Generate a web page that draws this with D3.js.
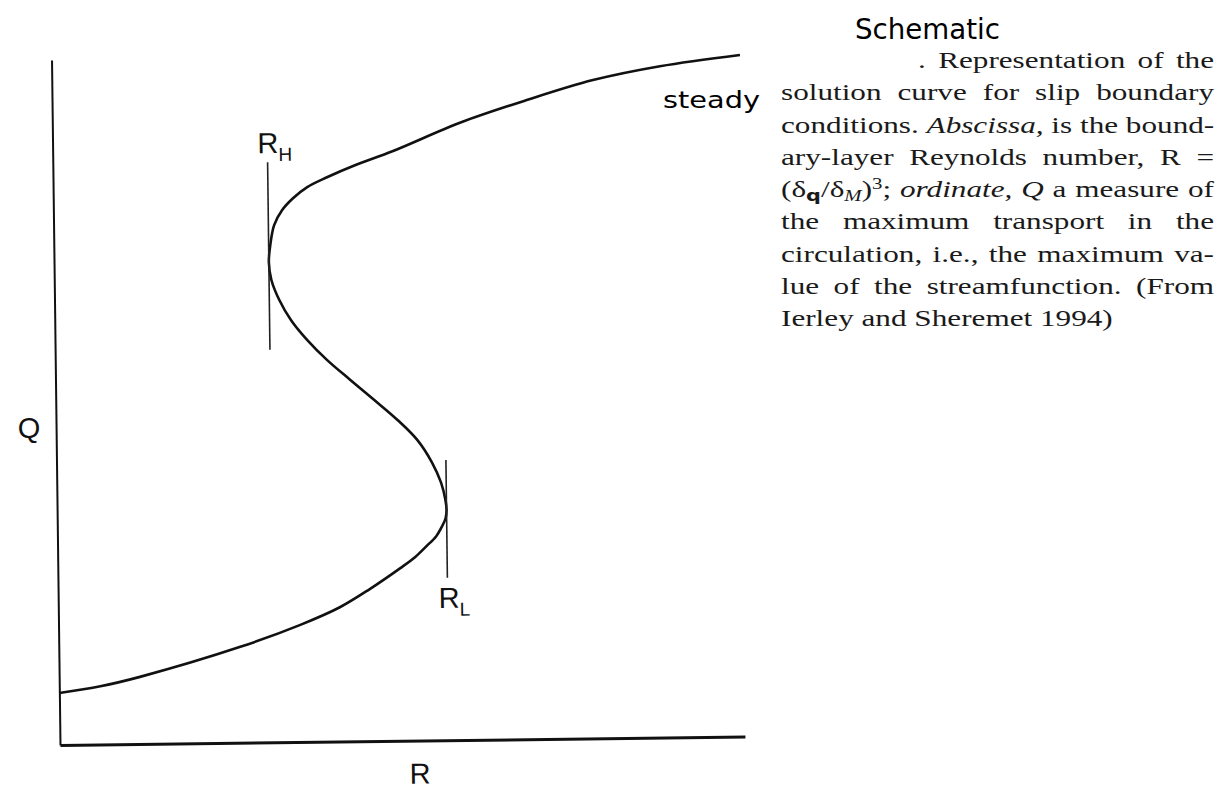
<!DOCTYPE html>
<html>
<head>
<meta charset="utf-8">
<script src="https://cdn.jsdelivr.net/npm/d3@7"></script>
<style>
  html, body { margin: 0; padding: 0; background: #fff; }
  svg { display: block; }
</style>
</head>
<body>
<svg id="fig" width="1228" height="792"></svg>
<script>
// Steady-state solution branch, listed by increasing Q
// (lower branch -> middle branch -> upper branch). R is single valued in Q.
const curveQ = [0.76, 0.85, 0.98, 1.40, 1.71, 1.96, 2.22, 2.52, 2.68, 2.84, 2.98, 3.13, 3.24, 3.36, 3.51, 3.76, 4.06, 4.39, 4.68, 4.98, 5.28, 5.57, 5.87, 6.16, 6.46, 6.75, 7.01, 7.26, 7.55, 7.77, 7.94, 8.10, 8.24, 8.41, 8.61, 9.01, 9.33, 9.61, 9.80, 9.95];
const curveR = [0.00, 0.60, 1.18, 2.65, 3.53, 4.11, 4.55, 5.00, 5.22, 5.39, 5.53, 5.62, 5.67, 5.685, 5.67, 5.61, 5.48, 5.27, 4.99, 4.65, 4.30, 3.97, 3.68, 3.45, 3.28, 3.17, 3.136, 3.16, 3.22, 3.34, 3.50, 3.71, 4.00, 4.41, 4.97, 5.95, 6.93, 7.90, 8.88, 10.05];

// Turning points of the branch and the extent of their marker lines
const turnNames = ["H", "L"];
const turnR     = [3.136, 5.685];
const turnQlo   = [5.73, 2.37];
const turnQhi   = [8.47, 4.09];

const axisNames = ["R", "Q"];

// Caption, one entry per printed line; each segment is [text, style]
const captionLines = [
  [[". Representation of the", ""]],
  [["solution curve for slip boundary", ""]],
  [["conditions. ", ""], ["Abscissa,", "i"], [" is the bound-", ""]],
  [["ary-layer Reynolds number, R =", ""]],
  [["(δ", ""], ["q", "sub"], ["/δ", ""], ["M", "subi"], [")", ""], ["3", "sup"], ["; ", ""], ["ordinate,", "i"], [" ", ""], ["Q", "i"], [" a measure of", ""]],
  [["the maximum transport in the", ""]],
  [["circulation, i.e., the maximum va-", ""]],
  [["lue of the streamfunction. (From", ""]],
  [["Ierley and Sheremet 1994)", ""]]
];
const handNotes = ["Schematic", "steady"];

const svg = d3.select("#fig");

// ---- plot frame (the printed figure sits slightly tilted on the page) ----
const W = 685, H = 685;
const x = d3.scaleLinear().domain([0, 10]).range([0, W]);
const y = d3.scaleLinear().domain([0, 10]).range([0, -H]);

const plot = svg.append("g")
  .attr("transform", "translate(60,745) rotate(-0.71)");

const xAxis = plot.append("g")
  .call(d3.axisBottom(x).tickValues([]).tickSizeOuter(0));
xAxis.select(".domain").attr("stroke", "#111").attr("stroke-width", 3);

const yAxis = plot.append("g")
  .call(d3.axisLeft(y).tickValues([]).tickSizeOuter(0));
yAxis.select(".domain").attr("stroke", "#111").attr("stroke-width", 2);

// solution curve
const pts = curveQ.map((q, i) => [curveR[i], q]);
const line = d3.line()
  .x(d => x(d[0]))
  .y(d => y(d[1]))
  .curve(d3.curveCatmullRom.alpha(0.5));

plot.append("path")
  .datum(pts)
  .attr("d", line)
  .attr("fill", "none")
  .attr("stroke", "#111")
  .attr("stroke-width", 2.6)
  .attr("stroke-linejoin", "round");

// vertical markers at the turning points
turnR.forEach((r, i) => {
  plot.append("line")
    .attr("x1", x(r)).attr("x2", x(r))
    .attr("y1", y(turnQlo[i])).attr("y2", y(turnQhi[i]))
    .attr("stroke", "#222").attr("stroke-width", 1.6);
});

const labelFont = "'Liberation Sans', Arial, Helvetica, sans-serif";

// R_H above its marker, R_L below its marker
const labH = plot.append("text")
  .attr("x", x(turnR[0]) - 10)
  .attr("y", y(turnQhi[0]) - 9)
  .attr("font-family", labelFont).attr("font-size", 29).attr("fill", "#111");
labH.append("tspan").text("R");
labH.append("tspan").attr("font-size", 19).attr("dy", 8).text(turnNames[0]);

const labL = plot.append("text")
  .attr("x", x(turnR[1]) - 9)
  .attr("y", y(turnQlo[1]) + 30)
  .attr("font-family", labelFont).attr("font-size", 29).attr("fill", "#111");
labL.append("tspan").text("R");
labL.append("tspan").attr("font-size", 19).attr("dy", 8).text(turnNames[1]);

// axis names
plot.append("text")
  .attr("x", x(5.25)).attr("y", 43)
  .attr("text-anchor", "middle")
  .attr("font-family", labelFont).attr("font-size", 29).attr("fill", "#111")
  .text(axisNames[0]);

svg.append("text")
  .attr("x", 29).attr("y", 438)
  .attr("text-anchor", "middle")
  .attr("font-family", labelFont).attr("font-size", 29).attr("fill", "#111")
  .text(axisNames[1]);

// ---- caption, justified to a fixed measure ----
const capScale = 1.3;
const capLeft = 781, capRight = 1214;
const cap = svg.append("g")
  .attr("transform", `translate(${capLeft},0) scale(${capScale},1)`)
  .attr("font-family", "'Liberation Serif', 'Times New Roman', serif")
  .attr("font-size", 24)
  .attr("fill", "#1a1a1a");

const measure = (capRight - capLeft) / capScale;
captionLines.forEach((segs, i) => {
  const baseY = 68 + i * 32.3;
  const startX = i === 0 ? (918 - capLeft) / capScale : 0;
  const t = cap.append("text").attr("x", startX).attr("y", baseY);
  segs.forEach(([txt, st]) => {
    const ts = t.append("tspan").text(txt);
    if (st === "i") ts.attr("font-style", "italic");
    if (st === "sub" || st === "subi") {
      ts.attr("font-size", 16).attr("baseline-shift", "-4");
      if (st === "subi") ts.attr("font-style", "italic");
      if (txt === "q") ts.attr("font-weight", "bold").attr("font-family", "'DejaVu Sans', sans-serif");
    }
    if (st === "sup") ts.attr("font-size", 16).attr("baseline-shift", "9");
  });
  // justify every line except the last
  if (i < captionLines.length - 1) {
    const natural = t.node().getComputedTextLength();
    const full = segs.map(s => s[0]).join("");
    const gaps = (full.match(/ /g) || []).length;
    const target = measure - startX;
    if (gaps > 0) t.attr("word-spacing", Math.max(0, (target - natural) / gaps));
  }
});

// ---- handwritten annotations ----
const handFont = "'DejaVu Sans', sans-serif";
svg.append("text")
  .attr("x", 855).attr("y", 39)
  .attr("font-family", handFont).attr("font-size", 28)
  .attr("textLength", 145).attr("lengthAdjust", "spacingAndGlyphs")
  .attr("fill", "#000")
  .text(handNotes[0]);

svg.append("text")
  .attr("x", 663).attr("y", 108)
  .attr("font-family", handFont).attr("font-size", 23)
  .attr("textLength", 97).attr("lengthAdjust", "spacingAndGlyphs")
  .attr("fill", "#000")
  .text(handNotes[1]);
</script>
</body>
</html>
